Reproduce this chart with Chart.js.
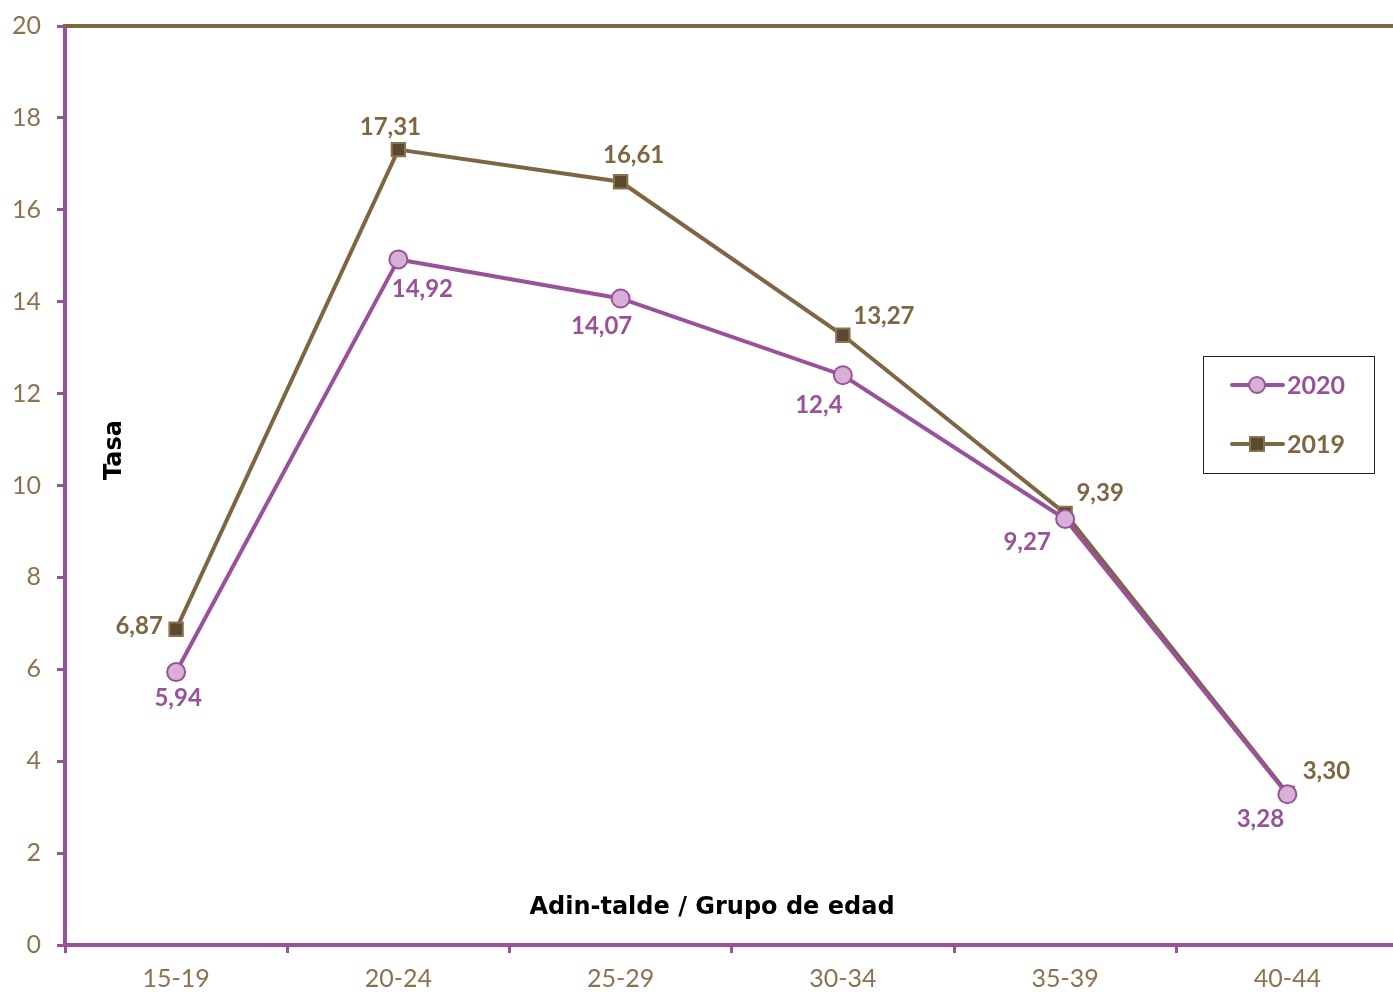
<!DOCTYPE html>
<html>
<head>
<meta charset="utf-8">
<script src="https://cdn.jsdelivr.net/npm/chart.js@4/dist/chart.umd.min.js"></script>
<style>
html,body{margin:0;padding:0;background:#fff;overflow:hidden;}
#wrap{width:1393px;height:994px;position:relative;overflow:hidden;}
#c{position:absolute;left:0;top:-5px;}
</style>
</head>
<body>
<div id="wrap"><canvas id="c" width="1410" height="999"></canvas></div>
<script>
const categories = ["15-19","20-24","25-29","30-34","35-39","40-44"];
const series2020 = [5.94, 14.92, 14.07, 12.4, 9.27, 3.28];
const series2019 = [6.87, 17.31, 16.61, 13.27, 9.39, 3.30];
const labels2020 = ["5,94","14,92","14,07","12,4","9,27","3,28"];
const labels2019 = ["6,87","17,31","16,61","13,27","9,39","3,30"];
const yTitle = "Tasa";
const xTitle = "Adin-talde / Grupo de edad";

const PURPLE = "#9A519B";
const BROWN = "#7E6642";
const TICKC = "#8B7350";
const FONT = "Lato, 'Open Sans', sans-serif";
const TFONT = "'DejaVu Sans', sans-serif";

// label offsets relative to point (styling)
const off2020 = [[2,26],[24,30],[-19,28],[-24,30],[-38,23],[-27,25]];
const off2019 = [[-37,-3],[-8,-22],[13,-27],[41,-19],[35,-20],[39,-22]];

// canvas is shifted up by 5px, so page coordinates = canvas coords - 5 in y
const DY = 5;

const overlay = {
  id:'overlay',
  beforeDatasetsDraw(chart){
    const ctx = chart.ctx, a = chart.chartArea;
    ctx.save();
    ctx.strokeStyle = BROWN; ctx.lineWidth = 4;
    ctx.beginPath(); ctx.moveTo(a.left-1, a.top); ctx.lineTo(a.right+5, a.top); ctx.stroke();
    ctx.restore();
  },
  afterDraw(chart){
    const ctx = chart.ctx, a = chart.chartArea;
    ctx.save();
    ctx.font = "bold 24px " + FONT;
    ctx.textAlign = "center"; ctx.textBaseline = "middle";
    const sets = [[0, labels2020, off2020, PURPLE],[1, labels2019, off2019, BROWN]];
    for (const [di, labs, offs, col] of sets){
      const meta = chart.getDatasetMeta(di);
      meta.data.forEach((pt,i)=>{
        ctx.fillStyle = col;
        ctx.fillText(labs[i], pt.x + offs[i][0], pt.y + offs[i][1]);
      });
    }
    // axis titles
    ctx.fillStyle = "#000";
    ctx.font = "bold 24px " + TFONT;
    ctx.fillText(xTitle, 712, 908 + DY);
    ctx.save();
    ctx.translate(115, 450 + DY); ctx.rotate(-Math.PI/2);
    ctx.fillText(yTitle, 0, 0);
    ctx.restore();
    // legend
    const lx = 1203.5, ly = 356.5 + DY, lw = 171, lh = 117;
    ctx.strokeStyle = "#222"; ctx.lineWidth = 1;
    ctx.strokeRect(lx, ly, lw, lh);
    const items = [
      {y:385 + DY, label:"2020", ds:chart.data.datasets[0], col:PURPLE},
      {y:444 + DY, label:"2019", ds:chart.data.datasets[1], col:BROWN}
    ];
    items.forEach((it,k)=>{
      ctx.strokeStyle = it.ds.borderColor; ctx.lineWidth = 4; ctx.lineCap = "round";
      ctx.beginPath(); ctx.moveTo(1232, it.y); ctx.lineTo(1283, it.y); ctx.stroke();
      ctx.lineCap = "butt";
      ctx.fillStyle = it.ds.pointBackgroundColor; ctx.strokeStyle = it.ds.pointBorderColor; ctx.lineWidth = 2;
      if (k===0){ ctx.beginPath(); ctx.arc(1257, it.y, 8, 0, Math.PI*2); ctx.fill(); ctx.stroke(); }
      else { ctx.fillRect(1250, it.y-7, 14, 14); ctx.strokeRect(1250, it.y-7, 14, 14); }
      ctx.fillStyle = it.col; ctx.font = "bold 25px " + FONT;
      ctx.textAlign = "left";
      ctx.fillText(it.label, 1287, it.y+1);
    });
    ctx.restore();
  }
};

new Chart(document.getElementById('c'), {
  type:'line',
  data:{
    labels: categories,
    datasets:[
      {label:"2020", data:series2020, borderColor:PURPLE, borderWidth:4,
       pointStyle:'circle', pointRadius:9, pointHoverRadius:9,
       pointBackgroundColor:"#D8AFD7", pointBorderColor:PURPLE, pointBorderWidth:2, tension:0},
      {label:"2019", data:series2019, borderColor:BROWN, borderWidth:4,
       pointStyle:'rect', pointRadius:9.5, pointHoverRadius:9.5,
       pointBackgroundColor:"#5B4A2E", pointBorderColor:"#8B7350", pointBorderWidth:2, tension:0}
    ]
  },
  options:{
    responsive:false, animation:false,
    layout:{padding:{left:0,right:0,top:20,bottom:0}},
    plugins:{legend:{display:false}, tooltip:{enabled:false}},
    scales:{
      x:{
        offset:true,
        grid:{display:true, drawOnChartArea:false, drawTicks:true, tickLength:8, color:PURPLE, lineWidth:3, offset:true},
        border:{display:true, color:PURPLE, width:4},
        ticks:{color:TICKC, font:{family:FONT, size:25}, padding:11, maxRotation:0, autoSkip:false},
        afterFit(s){ s.height = 49; }
      },
      y:{
        min:0, max:20,
        grid:{display:true, drawOnChartArea:false, drawTicks:true, tickLength:8, color:PURPLE, lineWidth:3},
        border:{display:true, color:PURPLE, width:4},
        ticks:{stepSize:2, color:TICKC, font:{family:FONT, size:25}, padding:16},
        afterFit(s){ s.width = 65; }
      }
    }
  },
  plugins:[overlay]
});
</script>
</body>
</html>
